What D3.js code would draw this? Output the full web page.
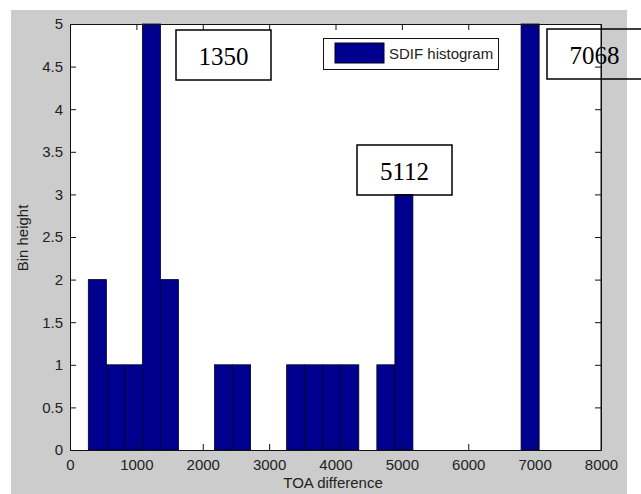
<!DOCTYPE html>
<html>
<head>
<meta charset="utf-8">
<script src="https://cdn.jsdelivr.net/npm/d3@7"></script>
<style>
  body { margin: 0; background: #fff; }
  text { font-family: Arial, "Liberation Sans", sans-serif; }
</style>
</head>
<body>
<svg id="chart" width="641" height="494"></svg>
<script>
// bordes de los bins del histograma (25 bins entre min y max)
const binEdges = [276, 548, 819, 1091, 1363, 1634, 1906, 2178, 2449, 2721, 2993, 3264, 3536,
  3808, 4080, 4351, 4623, 4895, 5166, 5438, 5710, 5981, 6253, 6525, 6796, 7068];
// altura de cada bin
const binCounts = [2, 1, 1, 5, 2, 0, 0, 1, 1, 0, 0, 1, 1, 1, 1, 0, 1, 3, 0, 0, 0, 0, 0, 0, 5];
const xTicks = [0, 1000, 2000, 3000, 4000, 5000, 6000, 7000, 8000];
const yTicks = [0, 0.5, 1, 1.5, 2, 2.5, 3, 3.5, 4, 4.5, 5];
const seriesName = "SDIF histogram";
const noteLabels = ["1350", "5112", "7068"];

const svg = d3.select("#chart");
const plot = { left: 70, right: 601, top: 24, bottom: 450 };

// fondo gris de la figura
svg.append("rect")
  .attr("x", 11).attr("y", 10)
  .attr("width", 616).attr("height", 484)
  .attr("fill", "#cccccc");

// area blanca de los ejes
svg.append("rect")
  .attr("x", plot.left).attr("y", plot.top)
  .attr("width", plot.right - plot.left).attr("height", plot.bottom - plot.top)
  .attr("fill", "#fff");

const x = d3.scaleLinear().domain([0, 8000]).range([plot.left, plot.right]);
const y = d3.scaleLinear().domain([0, 5]).range([plot.bottom, plot.top]);

const bins = binCounts.map((c, i) => ({ x0: binEdges[i], x1: binEdges[i + 1], count: c }));

// barras
svg.append("g")
  .selectAll("rect")
  .data(bins.filter(d => d.count > 0))
  .join("rect")
  .attr("x", d => x(d.x0))
  .attr("y", d => y(d.count))
  .attr("width", d => x(d.x1) - x(d.x0))
  .attr("height", d => y(0) - y(d.count))
  .attr("fill", "#00008f")
  .attr("stroke", "#000022")
  .attr("stroke-width", 0.8);

// ejes con ticks hacia adentro
const fmt = d => String(d);
const xAxis = svg.append("g")
  .attr("transform", `translate(0,${plot.bottom})`)
  .call(d3.axisBottom(x).tickValues(xTicks).tickFormat(fmt).tickSize(-6).tickSizeOuter(0).tickPadding(9));
const yAxis = svg.append("g")
  .attr("transform", `translate(${plot.left},0)`)
  .call(d3.axisLeft(y).tickValues(yTicks).tickFormat(fmt).tickSize(-6).tickSizeOuter(0).tickPadding(7));
const topAxis = svg.append("g")
  .attr("transform", `translate(0,${plot.top})`)
  .call(d3.axisTop(x).tickValues(xTicks).tickFormat("").tickSize(-6).tickSizeOuter(0));
const rightAxis = svg.append("g")
  .attr("transform", `translate(${plot.right},0)`)
  .call(d3.axisRight(y).tickValues(yTicks).tickFormat("").tickSize(-6).tickSizeOuter(0));

[xAxis, yAxis, topAxis, rightAxis].forEach(g => {
  g.select(".domain").attr("stroke", "#111");
  g.selectAll(".tick line").attr("stroke", "#111");
  g.selectAll("text").attr("font-size", 15).attr("fill", "#222")
    .style("font-family", "Arial, 'Liberation Sans', sans-serif");
});

// titulos de ejes
svg.append("text")
  .attr("x", 333).attr("y", 488)
  .attr("text-anchor", "middle")
  .attr("font-size", 15).attr("fill", "#222")
  .text("TOA difference");
svg.append("text")
  .attr("transform", "translate(28,238) rotate(-90)")
  .attr("text-anchor", "middle")
  .attr("font-size", 15).attr("fill", "#222")
  .text("Bin height");

// leyenda
const legend = svg.append("g");
legend.append("rect")
  .attr("x", 323.5).attr("y", 38.5).attr("width", 175).attr("height", 31)
  .attr("fill", "#fff").attr("stroke", "#111");
legend.append("rect")
  .attr("x", 335).attr("y", 43).attr("width", 49).attr("height", 20)
  .attr("fill", "#00008f").attr("stroke", "#000022");
legend.append("text")
  .attr("x", 389).attr("y", 59)
  .attr("font-size", 15).attr("fill", "#222")
  .text(seriesName);

// cuadros de anotacion
const notes = [
  { label: noteLabels[0], x: 176, y: 30 },
  { label: noteLabels[1], x: 357, y: 145 },
  { label: noteLabels[2], x: 547, y: 29 }
];
const ng = svg.append("g").selectAll("g").data(notes).join("g")
  .attr("transform", d => `translate(${d.x},${d.y})`);
ng.append("rect")
  .attr("width", 95).attr("height", 50)
  .attr("fill", "none").attr("stroke", "#000").attr("stroke-width", 1.5);
ng.append("text")
  .attr("x", 47.5).attr("y", 35)
  .attr("text-anchor", "middle")
  .attr("font-size", 25)
  .style("font-family", "'Liberation Serif', 'Times New Roman', serif")
  .attr("fill", "#000")
  .text(d => d.label);

// borde derecho del eje sobre la anotacion
svg.append("line")
  .attr("x1", plot.right).attr("x2", plot.right)
  .attr("y1", plot.top).attr("y2", plot.bottom)
  .attr("stroke", "#111");
</script>
</body>
</html>
